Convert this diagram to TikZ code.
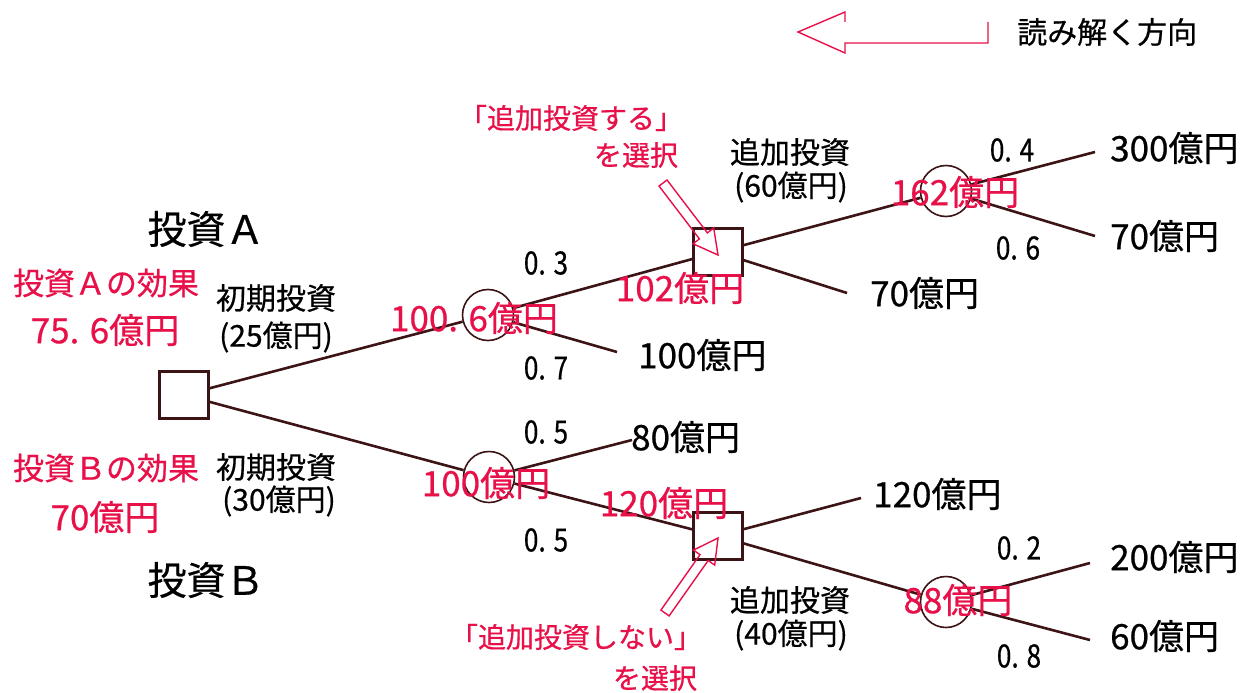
\documentclass[tikz,border=0pt]{standalone}
\usepackage{fontspec}
\setmainfont{Noto Sans CJK JP}[FakeBold=0.6]
\definecolor{accent}{RGB}{232,16,72}
\definecolor{lnc}{RGB}{60,20,22}
\begin{document}
\begin{tikzpicture}[x=1pt,y=-1pt,
  ln/.style={draw=lnc, line width=2.6pt},
  dec/.style={rectangle, draw=lnc, fill=white, line width=2.4pt, minimum width=49pt, minimum height=47pt, inner sep=0pt},
  chc/.style={circle, draw=lnc, fill=white, line width=1.6pt, minimum size=51pt, inner sep=0pt},
  txt/.style={inner sep=0pt, text=black, font=\fontsize{35}{36}\selectfont},
  prob/.style={inner sep=0pt, text=black, xscale=0.82, font=\fontsize{32}{34}\selectfont},
  mid/.style={inner sep=0pt, text=black, font=\fontsize{30}{34}\selectfont},
  val/.style={inner sep=0pt, text=accent, font=\fontsize{35}{36}\selectfont},
  note/.style={inner sep=0pt, text=accent, font=\fontsize{28}{32}\selectfont},
  hollow/.style={draw=accent, line width=1.4pt, line join=miter}
]
\useasboundingbox (0,0) rectangle (1250,693);

% direction arrow
\draw[hollow] (845,22) -- (845,12) -- (798,32) -- (845,53) -- (845,43) -- (988,43) -- (988,22);
\node[mid, anchor=west] (dir) at (1017,32) {読み解く方向};

% nodes
\node[dec] (root) at (184,395) {};
\node[chc] (cA) at (488,315) {};
\node[chc] (cB) at (489,477) {};
\node[dec] (dA) at (718,252) {};
\node[dec] (dB) at (718,536) {};
\node[chc] (cA2) at (946,191) {};
\node[chc] (cB2) at (946,602) {};

\coordinate (eA100) at (617,352);
\coordinate (eB80) at (632,440);
\coordinate (eA70) at (847,293);
\coordinate (eB120) at (861,498);
\coordinate (eA300) at (1095,152);
\coordinate (eA70b) at (1095,236);
\coordinate (eB200) at (1090,563);
\coordinate (eB60) at (1090,640);

% connectors
\draw[ln] (root) -- (cA);
\draw[ln] (root) -- (cB);
\draw[ln] (cA) -- (dA);
\draw[ln] (cA) -- (eA100);
\draw[ln] (cB) -- (eB80);
\draw[ln] (cB) -- (dB);
\draw[ln] (dA) -- (cA2);
\draw[ln] (dA) -- (eA70);
\draw[ln] (dB) -- (eB120);
\draw[ln] (dB) -- (cB2);
\draw[ln] (cA2) -- (eA300);
\draw[ln] (cA2) -- (eA70b);
\draw[ln] (cB2) -- (eB200);
\draw[ln] (cB2) -- (eB60);

% black labels
\node[inner sep=0pt, font=\fontsize{39}{40}\selectfont] (tA) at (206,229) {投資Ａ};
\node[inner sep=0pt, font=\fontsize{39}{40}\selectfont] (tB) at (206,580) {投資Ｂ};
\node[mid] (iA1) at (276,298) {初期投資};
\node[mid] (iA2) at (276,337) {(25億円)};
\node[mid] (iB1) at (276,467) {初期投資};
\node[mid] (iB2) at (279,501) {(30億円)};
\node[mid] (aA1) at (790,152) {追加投資};
\node[mid] (aA2) at (791,187) {(60億円)};
\node[mid] (aB1) at (790,600) {追加投資};
\node[mid] (aB2) at (791,635) {(40億円)};

\node[prob] (p03) at (546,263) {0. 3};
\node[prob] (p07) at (546,368) {0. 7};
\node[prob] (p05a) at (546,432) {0. 5};
\node[prob] (p05b) at (546,540) {0. 5};
\node[prob] (p04) at (1012,150) {0. 4};
\node[prob] (p06) at (1018,248) {0. 6};
\node[prob] (p02) at (1019,548) {0. 2};
\node[prob] (p08) at (1019,656) {0. 8};

\node[txt, anchor=west] (o100) at (638,355) {100億円};
\node[txt, anchor=west] (o80) at (631,437) {80億円};
\node[txt, anchor=west] (o70a) at (870,293) {70億円};
\node[txt, anchor=west] (o120) at (873,494) {120億円};
\node[txt, anchor=west] (o300) at (1110,148) {300億円};
\node[txt, anchor=west] (o70b) at (1110,236) {70億円};
\node[txt, anchor=west] (o200) at (1110,557) {200億円};
\node[txt, anchor=west] (o60) at (1110,636) {60億円};

% hollow pointer arrows
\draw[hollow] (667.0,180.0) -- (707.4,232.9) -- (713.7,228.0) -- (718,255) -- (693.1,243.8) -- (699.4,238.9) -- (659.0,186.0) -- cycle;
\draw[hollow] (669.1,615.9) -- (708.2,560.5) -- (714.7,565.1) -- (718,538) -- (693.5,550.1) -- (700.0,554.7) -- (660.9,610.1) -- cycle;

% red labels
\node[note] (sel1) at (571,118) {「追加投資する」};
\node[note] (sel1b) at (636,155) {を選択};
\node[note] (sel2) at (576,637) {「追加投資しない」};
\node[note] (sel2b) at (655,678) {を選択};

\node[inner sep=0pt, text=accent, font=\fontsize{31}{34}\selectfont] (effA) at (106,283) {投資Ａの効果};
\node[inner sep=0pt, text=accent, font=\fontsize{31}{34}\selectfont] (effB) at (106,468) {投資Ｂの効果};
\node[val] (vA) at (105,330) {75. 6億円};
\node[val] (vB) at (105,517) {70億円};
\node[val] (vcA) at (474,318) {100. 6億円};
\node[val] (vcB) at (486,483) {100億円};
\node[val] (vdA) at (680,288) {102億円};
\node[val] (vdB) at (664,503) {120億円};
\node[val] (vcA2) at (955,192) {162億円};
\node[val] (vcB2) at (958,600) {88億円};
\end{tikzpicture}
\end{document}
